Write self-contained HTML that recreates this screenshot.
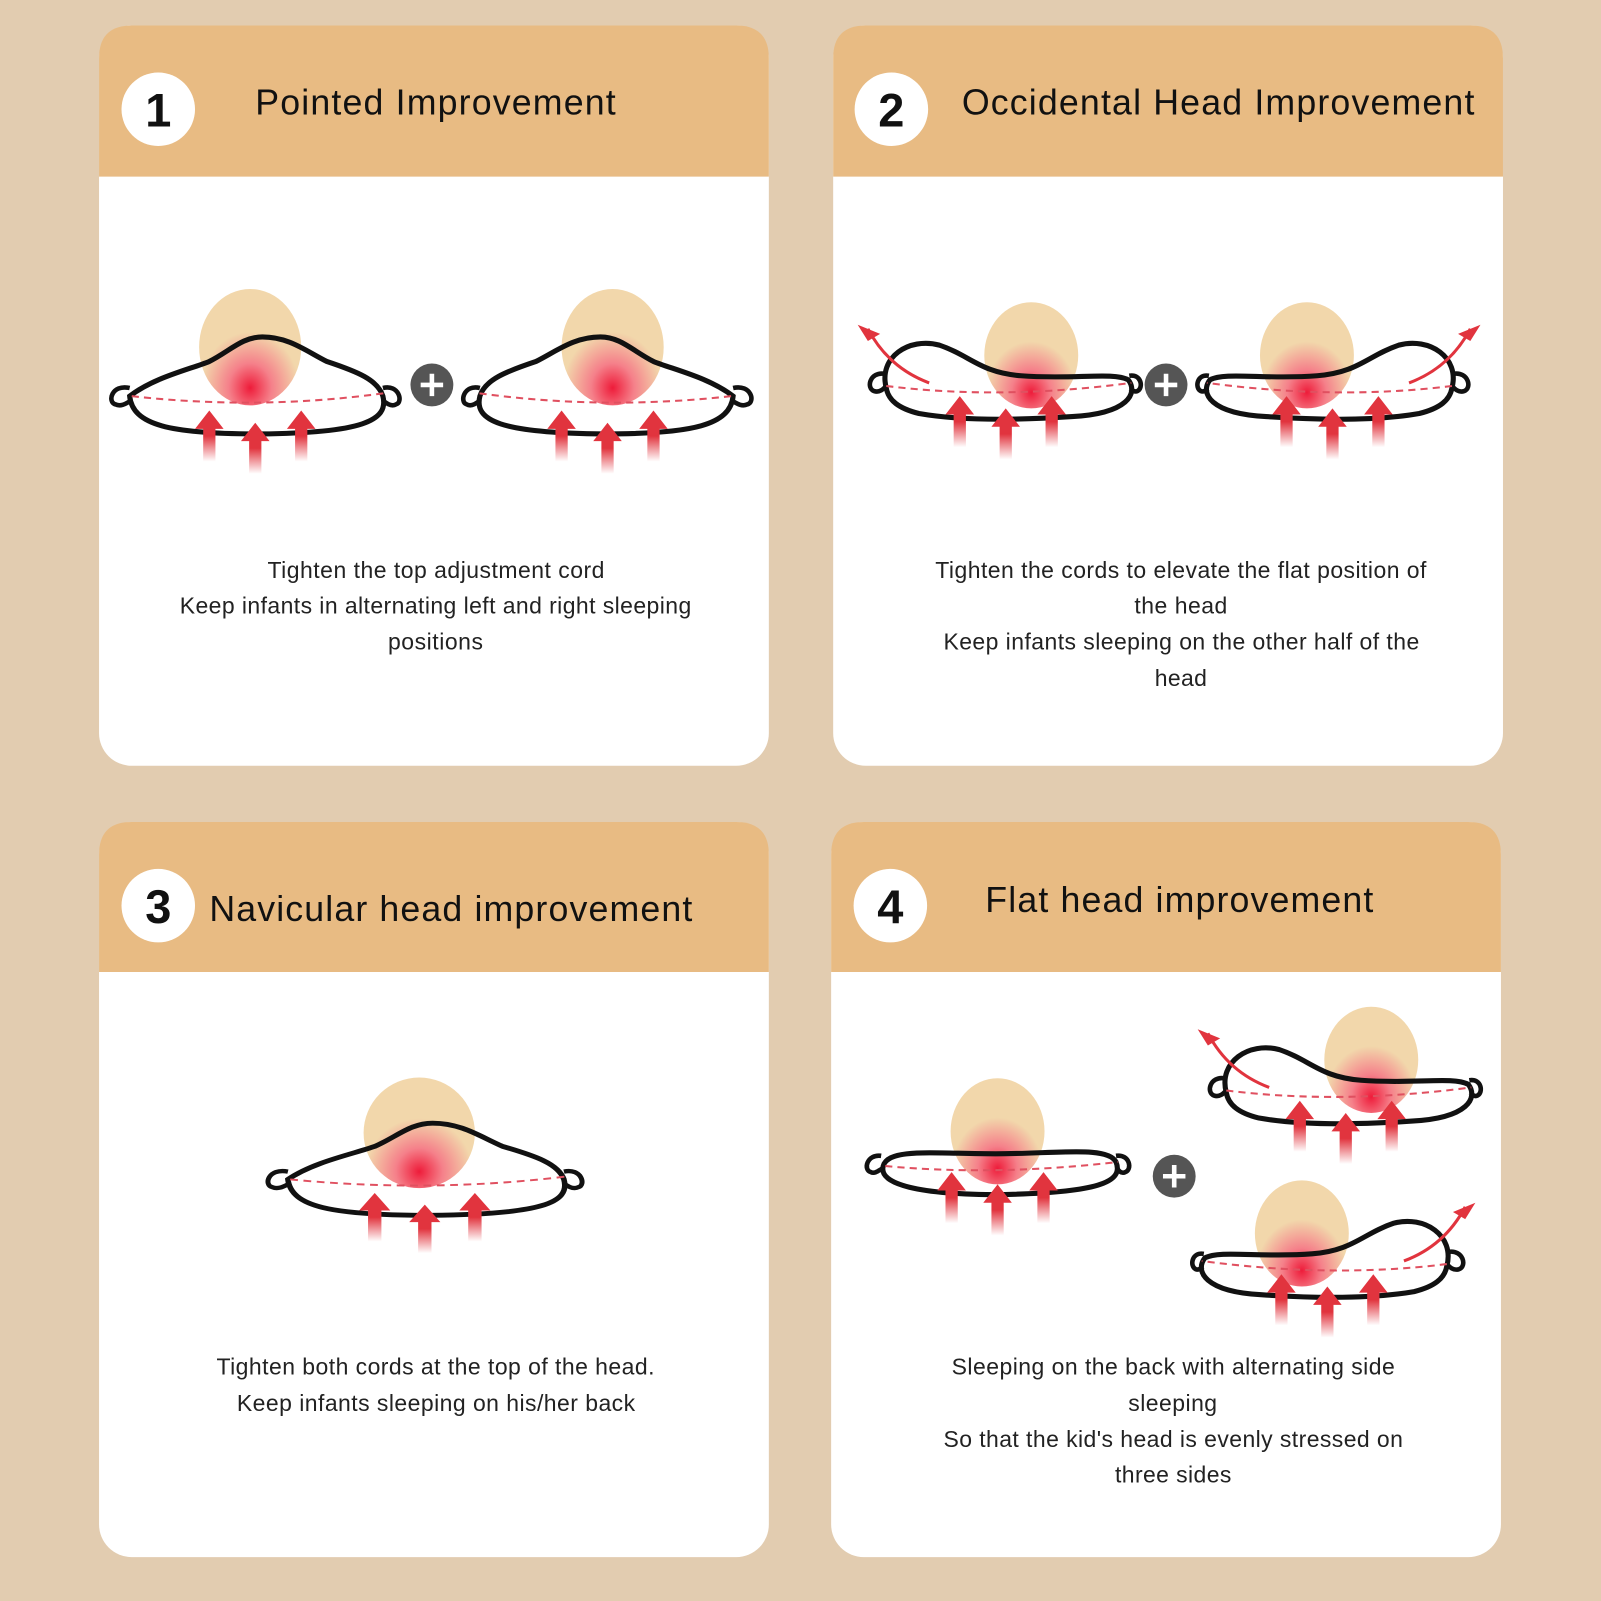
<!DOCTYPE html>
<html><head><meta charset="utf-8"><style>
html,body{margin:0;padding:0;background:#e2ccb0;}
svg{display:block;}
text{font-family:"Liberation Sans",sans-serif;}
</style></head><body>
<svg width="1601" height="1601" viewBox="0 0 1568 1568" xmlns="http://www.w3.org/2000/svg">
<defs>
<radialGradient id="hg" cx="0.5" cy="0.85" r="0.6">
<stop offset="0" stop-color="#ee1c3a"/><stop offset="0.35" stop-color="#f5808a"/><stop offset="0.8" stop-color="#f2d7ab" stop-opacity="1"/><stop offset="1" stop-color="#f2d7ab"/>
</radialGradient>
<linearGradient id="ag" x1="0" y1="0" x2="0" y2="1">
<stop offset="0" stop-color="#e1343e"/><stop offset="0.5" stop-color="#e1343e"/><stop offset="1" stop-color="#e1343e" stop-opacity="0"/>
</linearGradient>
<g id="arrow"><path d="M0,0 L14,18 L6,18 L6,50 L-6,50 L-6,18 L-14,18 Z" fill="url(#ag)"/></g>
<g id="arrows">
<use href="#arrow" x="-45" y="0"/><use href="#arrow" x="0" y="12"/><use href="#arrow" x="45" y="0"/>
</g>
<g id="plus"><circle r="21" fill="#555"/><path d="M-11,0H11M0,-11V11" stroke="#fff" stroke-width="4.5"/></g>
<g id="hump">
<path d="M22,58 C45,40 80,32 100,24 C120,14 132,0 152,0 C178,0 195,14 215,24 C245,34 265,42 270,58 C276,82 250,94 150,95 C60,95 25,86 22,58 Z" fill="#fff"/>
<ellipse cx="140" cy="10" rx="50" ry="57" fill="url(#hg)"/>
<path d="M22,58 C45,40 80,32 100,24 C120,14 132,0 152,0 C178,0 195,14 215,24 C245,34 265,42 270,58 C276,82 250,94 150,95 C60,95 25,86 22,58 Z" fill="none" stroke="#111" stroke-width="5"/>
<path d="M22,50 C4,46 0,64 8,66 C14,69 20,64 24,62" fill="none" stroke="#111" stroke-width="4.5"/>
<path d="M270,50 C286,46 290,64 283,66 C278,69 272,64 270,62" fill="none" stroke="#111" stroke-width="4.5"/>
<path d="M24,58 Q150,72 272,55" fill="none" stroke="#e05060" stroke-width="2" stroke-dasharray="7,5"/>
<use href="#arrows" x="145" y="72"/>
</g>
<g id="tilt">
<path d="M18,50 C10,20 40,0 70,8 C100,18 110,35 150,38 C200,42 240,34 255,42 C265,55 255,75 200,78 C140,82 90,82 50,75 C30,70 20,62 18,50 Z" fill="#fff"/>
<ellipse cx="160" cy="18" rx="46" ry="52" fill="url(#hg)"/>
<path d="M18,50 C10,20 40,0 70,8 C100,18 110,35 150,38 C200,42 240,34 255,42 C265,55 255,75 200,78 C140,82 90,82 50,75 C30,70 20,62 18,50 Z" fill="none" stroke="#111" stroke-width="5"/>
<path d="M16,36 C2,34 -2,50 6,53 C12,55 16,50 18,48" fill="none" stroke="#111" stroke-width="4.5"/>
<path d="M256,38 C268,36 270,50 264,53 C260,55 257,50 256,50" fill="none" stroke="#111" stroke-width="4.5"/>
<path d="M18,48 Q130,62 258,45" fill="none" stroke="#e05060" stroke-width="2" stroke-dasharray="7,5"/>
<path d="M60,45 Q20,30 0,-8" fill="none" stroke="#e1343e" stroke-width="3"/>
<path d="M-10,-12 L12,-3 L0,4 Z" fill="#e1343e"/>
<use href="#arrows" x="135" y="58"/>
</g>
<g id="flat">
<path d="M20,32 C25,14 70,20 130,20 C190,20 240,12 248,28 C256,48 230,58 135,60 C55,60 15,50 20,32 Z" fill="#fff"/>
<ellipse cx="132" cy="-2" rx="46" ry="52" fill="url(#hg)"/>
<path d="M20,32 C25,14 70,20 130,20 C190,20 240,12 248,28 C256,48 230,58 135,60 C55,60 15,50 20,32 Z" fill="none" stroke="#111" stroke-width="5"/>
<path d="M18,22 C4,20 0,36 8,38 C12,40 16,36 20,34" fill="none" stroke="#111" stroke-width="4.5"/>
<path d="M248,22 C262,20 264,36 257,38 C253,40 250,36 249,34" fill="none" stroke="#111" stroke-width="4.5"/>
<path d="M22,32 Q130,42 250,28" fill="none" stroke="#e05060" stroke-width="2" stroke-dasharray="7,5"/>
<use href="#arrows" x="132" y="38"/>
</g>
</defs>

<g>
<rect x="97" y="25" width="656" height="725" rx="32" fill="#fff"/>
<path d="M97,173 V57 Q97,25 129,25 H721 Q753,25 753,57 V173 Z" fill="#e8bb83"/>
<rect x="816" y="25" width="656" height="725" rx="32" fill="#fff"/>
<path d="M816,173 V57 Q816,25 848,25 H1440 Q1472,25 1472,57 V173 Z" fill="#e8bb83"/>
<rect x="97" y="805" width="656" height="720" rx="32" fill="#fff"/>
<path d="M97,952 V837 Q97,805 129,805 H721 Q753,805 753,837 V952 Z" fill="#e8bb83"/>
<rect x="814" y="805" width="656" height="720" rx="32" fill="#fff"/>
<path d="M814,952 V837 Q814,805 846,805 H1438 Q1470,805 1470,837 V952 Z" fill="#e8bb83"/>
</g>

<g font-weight="bold" font-size="46" text-anchor="middle" fill="#111">
<circle cx="155" cy="107" r="36" fill="#fff"/><text x="155" y="124">1</text>
<circle cx="873" cy="107" r="36" fill="#fff"/><text x="873" y="124">2</text>
<circle cx="155" cy="887" r="36" fill="#fff"/><text x="155" y="904">3</text>
<circle cx="872" cy="887" r="36" fill="#fff"/><text x="872" y="904">4</text>
</g>
<g font-size="35" fill="#111" lengthAdjust="spacing">
<text x="250" y="112" textLength="353">Pointed Improvement</text>
<text x="942" y="112" textLength="502">Occidental Head Improvement</text>
<text x="205" y="902" textLength="473">Navicular head improvement</text>
<text x="965" y="893" textLength="380">Flat head improvement</text>
</g>

<use href="#hump" x="105" y="330"/>
<use href="#plus" x="423" y="377"/>
<use href="#hump" transform="translate(740,330) scale(-1,1)"/>

<use href="#tilt" x="850" y="330"/>
<use href="#plus" x="1142" y="377"/>
<use href="#tilt" transform="translate(1440,330) scale(-1,1)"/>

<use href="#hump" transform="translate(258,1100) scale(1.09,0.95)"/>

<use href="#flat" x="845" y="1110"/>
<use href="#plus" x="1150" y="1152"/>
<use href="#tilt" x="1183" y="1020"/>
<use href="#tilt" transform="translate(1435,1190) scale(-1,1)"/>

<g font-size="22.5" fill="#222">
<text x="262" y="566" textLength="330">Tighten the top adjustment cord</text>
<text x="176" y="601" textLength="501">Keep infants in alternating left and right sleeping</text>
<text x="380" y="636" textLength="93">positions</text>
<text x="916" y="566" textLength="481">Tighten the cords to elevate the flat position of</text>
<text x="1111" y="601" textLength="91">the head</text>
<text x="924" y="636" textLength="466">Keep infants sleeping on the other half of the</text>
<text x="1131" y="672" textLength="51">head</text>
<text x="212" y="1346" textLength="429">Tighten both cords at the top of the head.</text>
<text x="232" y="1382" textLength="390">Keep infants sleeping on his/her back</text>
<text x="932" y="1346" textLength="434">Sleeping on the back with alternating side</text>
<text x="1105" y="1382" textLength="87">sleeping</text>
<text x="924" y="1417" textLength="450">So that the kid's head is evenly stressed on</text>
<text x="1092" y="1452" textLength="114">three sides</text>
</g>
</svg>
</body></html>
